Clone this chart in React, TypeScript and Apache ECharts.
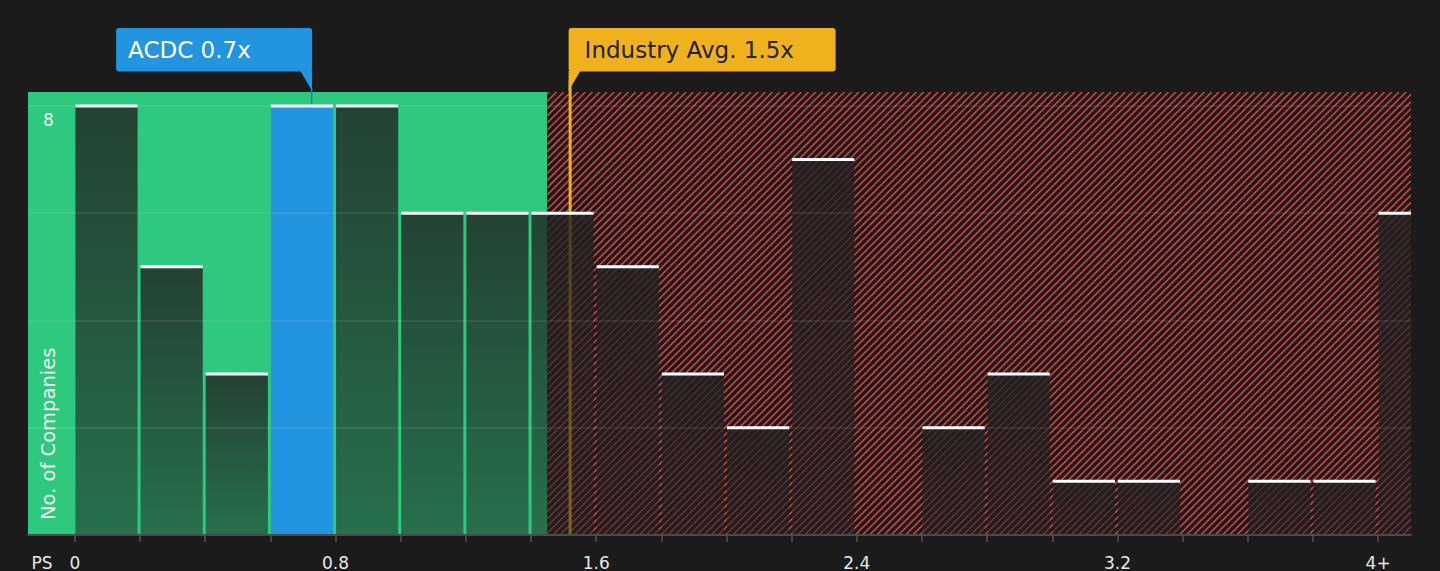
import React, { useEffect, useRef } from "react";
import * as echarts from "echarts";

// ---- data ----
const BIN_STARTS = [0, 0.2, 0.4, 0.6, 0.8, 1.0, 1.2, 1.4, 1.6, 1.8, 2.0, 2.2, 2.4, 2.6, 2.8, 3.0, 3.2, 3.4, 3.6, 3.8, 4.0];
const COUNTS = [8, 5, 3, 8, 8, 6, 6, 6, 5, 3, 2, 7, 0, 2, 3, 1, 1, 0, 1, 1, 6];
const BIN_WIDTH = 0.2;
const HIGHLIGHT_BIN = 3; // ACDC's bin
const COMPANY_VALUE = 0.728;
const COMPANY_LABEL = "ACDC 0.7x";
const INDUSTRY_VALUE = 1.52;
const INDUSTRY_LABEL = "Industry Avg. 1.5x";
const FAIR_END = 1.45;
const X_MIN = -0.144;
const X_MAX = 4.101;
const Y_MAX = 8.26;
const X_TICKS = [0, 0.2, 0.4, 0.6, 0.8, 1.0, 1.2, 1.4, 1.6, 1.8, 2.0, 2.2, 2.4, 2.6, 2.8, 3.0, 3.2, 3.4, 3.6, 3.8, 4.0];
const X_LABELS = [0, 0.8, 1.6, 2.4, 3.2, 4.0];
const Y_TICKS = [2, 4, 6, 8];
const Y_LABELS = [8];

const FONT = '"DejaVu Sans", sans-serif';
const BG = "#1b1b1b";
const GREEN = "#2ec87e";
const BLUE = "#2394df";
const YELLOW = "#f0b21c";
const HATCH = "#d04545";
const HATCH_BG = "#1d1a1a";

export default function App() {
  const ref = useRef<HTMLDivElement>(null);

  useEffect(() => {
    if (!ref.current) return;
    const chart = echarts.init(ref.current, null, { renderer: "svg" });

    const barFill = new echarts.graphic.LinearGradient(0, 0, 0, 1, [
      { offset: 0, color: "rgba(33,33,33,0.8)" },
      { offset: 1, color: "rgba(33,33,33,0.53)" },
    ]);

    const regionData = [
      [X_MIN, FAIR_END, 0],
      [FAIR_END, X_MAX, 1],
    ];
    const barData = BIN_STARTS.map((s, i) => [s, COUNTS[i], i]);
    const annData = [
      [COMPANY_VALUE, 0],
      [INDUSTRY_VALUE, 1],
    ];

    const option: any = {
      animation: false,
      backgroundColor: BG,
      grid: { left: 28, right: 29, top: 92, bottom: 36 },
      xAxis: {
        type: "value",
        min: X_MIN,
        max: X_MAX,
        z: 10,
        splitLine: { show: false },
        axisLine: { show: true, lineStyle: { color: "#4a4a4a", width: 2 } },
        axisTick: { show: true, customValues: X_TICKS, length: 7, lineStyle: { color: "#555", width: 1.5 } },
        axisLabel: {
          customValues: X_LABELS,
          color: "#e8e8e8",
          fontSize: 17,
          fontFamily: FONT,
          margin: 19,
          formatter: (v: number) => (v >= 4 ? "4+" : String(+v.toFixed(1))),
        },
      },
      yAxis: {
        type: "value",
        min: 0,
        max: Y_MAX,
        z: 10,
        axisLine: { show: false },
        axisTick: { show: false, customValues: Y_TICKS },
        splitLine: { show: true, lineStyle: { color: "rgba(255,255,255,0.1)", width: 1.5 } },
        axisLabel: {
          customValues: Y_LABELS,
          inside: true,
          margin: 15,
          color: "#eeeeee",
          fontSize: 17,
          fontFamily: FONT,
          verticalAlign: "top",
          padding: [6, 0, 0, 0],
        },
      },
      graphic: [
        {
          type: "text",
          x: 42,
          y: 554,
          z: 100,
          style: { text: "PS", fill: "#e8e8e8", fontSize: 17, fontFamily: FONT, align: "center", verticalAlign: "top" },
        },
        {
          type: "text",
          x: 48,
          y: 520,
          z: 100,
          rotation: Math.PI / 2,
          style: {
            text: "No. of Companies",
            fill: "#eeeeee",
            fontSize: 19.5,
            fontFamily: FONT,
            align: "left",
            verticalAlign: "middle",
          },
        },
      ],
      series: [
        {
          type: "custom",
          z: 1,
          clip: true,
          data: regionData,
          renderItem: (params: any, api: any) => {
            const a = api.coord([api.value(0), Y_MAX]);
            const b = api.coord([api.value(1), 0]);
            const x0 = a[0], y0 = a[1], x1 = b[0], y1 = b[1];
            if (api.value(2) === 0) {
              return { type: "rect", shape: { x: x0, y: y0, width: x1 - x0, height: y1 - y0 }, style: { fill: GREEN } };
            }
            const children: any[] = [
              { type: "rect", shape: { x: x0, y: y0, width: x1 - x0, height: y1 - y0 }, style: { fill: HATCH_BG } },
            ];
            const step = 7.2;
            for (let c = x0 + y0 + 2; c < x1 + y1; c += step) {
              const ys = Math.min(y1, c - x0);
              const ye = Math.max(y0, c - x1);
              if (ys <= ye) continue;
              children.push({
                type: "line",
                shape: { x1: c - ys, y1: ys, x2: c - ye, y2: ye },
                style: { stroke: HATCH, lineWidth: 1.6 },
              });
            }
            return { type: "group", children };
          },
        },
        {
          type: "custom",
          z: 2,
          clip: false,
          data: annData,
          renderItem: (params: any, api: any) => {
            const px = api.coord([api.value(0), 0])[0];
            const bottom = api.coord([0, 0])[1];
            const boxTop = 28;
            const boxBottom = 71.5;
            const mid = (boxTop + boxBottom) / 2 + 0.5;
            if (api.value(1) === 0) {
              const topBar = api.coord([0, COUNTS[HIGHLIGHT_BIN]])[1];
              const w = 196;
              return {
                type: "group",
                children: [
                  { type: "line", shape: { x1: px - 0.5, y1: 88, x2: px - 0.5, y2: topBar }, style: { stroke: "#1f80c4", lineWidth: 1.5 } },
                  { type: "rect", shape: { x: px - w, y: boxTop, width: w, height: boxBottom - boxTop, r: 3 }, style: { fill: BLUE } },
                  { type: "polygon", shape: { points: [[px - 12, boxBottom - 1], [px, boxBottom - 1], [px, 91]] }, style: { fill: BLUE } },
                  {
                    type: "text",
                    x: px - w + 12,
                    y: mid,
                    style: { text: COMPANY_LABEL, fill: "#ffffff", fontSize: 23, fontFamily: FONT, align: "left", verticalAlign: "middle" },
                  },
                ],
              };
            }
            const w = 267;
            const l = px - 1.5;
            return {
              type: "group",
              children: [
                { type: "line", shape: { x1: px, y1: 80, x2: px, y2: bottom }, style: { stroke: YELLOW, lineWidth: 3 } },
                { type: "rect", shape: { x: l, y: boxTop, width: w, height: boxBottom - boxTop, r: 3 }, style: { fill: YELLOW } },
                { type: "polygon", shape: { points: [[l, boxBottom - 1], [l + 12, boxBottom - 1], [l, 91]] }, style: { fill: YELLOW } },
                {
                  type: "text",
                  x: l + 16,
                  y: mid,
                  style: { text: INDUSTRY_LABEL, fill: "#222222", fontSize: 23, fontFamily: FONT, align: "left", verticalAlign: "middle" },
                },
              ],
            };
          },
        },
        {
          type: "custom",
          z: 3,
          clip: true,
          data: barData,
          encode: { x: 0, y: 1 },
          renderItem: (params: any, api: any) => {
            const s = api.value(0);
            const v = api.value(1);
            const idx = api.value(2);
            if (!(v > 0)) return null;
            const p0 = api.coord([s, v]);
            const p1 = api.coord([s + BIN_WIDTH, 0]);
            const left = p0[0] + 0.5;
            const w = p1[0] - p0[0] - 3;
            const top = p0[1];
            const h = p1[1] - top;
            return {
              type: "group",
              children: [
                { type: "rect", shape: { x: left, y: top, width: w, height: h }, style: { fill: idx === HIGHLIGHT_BIN ? BLUE : barFill } },
                { type: "rect", shape: { x: left, y: top - 1.5, width: w, height: 3 }, style: { fill: "#ffffff" } },
              ],
            };
          },
        },
      ],
    };

    chart.setOption(option);
    return () => chart.dispose();
  }, []);

  return (
    <div
      ref={ref}
      style={{ position: "absolute", left: 0, top: 0, width: 1440, height: 571, background: BG }}
    />
  );
}
